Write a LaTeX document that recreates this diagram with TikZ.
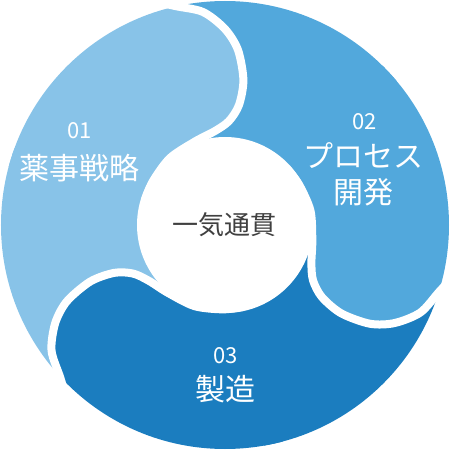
\documentclass[tikz,border=0pt]{standalone}
\usepackage{fontspec}
\setmainfont{Noto Sans CJK JP}
\definecolor{StepLight}{HTML}{88C3E8}
\definecolor{StepMid}{HTML}{52A8DC}
\definecolor{StepDark}{HTML}{1B7DBF}
\definecolor{CoreGray}{HTML}{404040}
\usepackage{tikz}

\tikzset{
  swirl/.style={insert path={-- plot[smooth] coordinates
    {(-80,226) (-50,219) (-22,213) (0,196) (13,175) (18.4,145) (14,120)
     (4,104) (-10,94) (-30,83.5) (-55,67) (-72,44) (-80,25)}}},
  stepno/.style={text=white, inner sep=0pt, font=\fontsize{22}{22}\selectfont},
  steptitle/.style={text=white, inner sep=0pt, font=\fontsize{30}{30}\selectfont},
}

\begin{document}
\begin{tikzpicture}[x=1pt, y=1pt]
  \useasboundingbox (-225,-225) rectangle (225,225);
  \begin{scope}
    \clip (0,0) circle[radius=224pt];
    % 01 segment
    \fill[StepLight] (109.5:240) [swirl] -- (0,0) -- (165:240)
      arc[start angle=165, end angle=109.5, radius=240pt] -- cycle;
    \begin{scope}[rotate=120]
      \fill[StepLight] (40:240) arc[start angle=40, end angle=109.5, radius=240pt]
        [swirl] -- (0,0) -- cycle;
    \end{scope}
    % 02 segment
    \begin{scope}[rotate=-120]
      \fill[StepMid] (109.5:240) [swirl] -- (0,0) -- (165:240)
        arc[start angle=165, end angle=109.5, radius=240pt] -- cycle;
      \begin{scope}[rotate=120]
        \fill[StepMid] (40:240) arc[start angle=40, end angle=109.5, radius=240pt]
          [swirl] -- (0,0) -- cycle;
      \end{scope}
    \end{scope}
    % 03 segment
    \begin{scope}[rotate=-240]
      \fill[StepDark] (109.5:240) [swirl] -- (0,0) -- (165:240)
        arc[start angle=165, end angle=109.5, radius=240pt] -- cycle;
      \begin{scope}[rotate=120]
        \fill[StepDark] (40:240) arc[start angle=40, end angle=109.5, radius=240pt]
          [swirl] -- (0,0) -- cycle;
      \end{scope}
    \end{scope}
  \end{scope}

  % white gaps between the segments
  \draw[white, line width=8pt] (109.5:240) [swirl];
  \draw[white, line width=8pt, rotate=-120] (109.5:240) [swirl];
  \draw[white, line width=8pt, rotate=-240] (109.5:240) [swirl];

  % centre
  \node[circle, fill=white, minimum size=176pt, inner sep=0pt, text=CoreGray,
    font=\fontsize{26}{26}\selectfont] (core) at (0,0) {一気通貫};

  \node[stepno] (no1) at (-145.5,94.5) {01};
  \node[steptitle] (title1) at (-145,57) {薬事戦略};
  \node[stepno] (no2) at (139.5,103) {02};
  \node[steptitle] (title2) at (138.7,69) {プロセス};
  \node[steptitle] (title2b) at (139,33) {開発};
  \node[stepno] (no3) at (0.7,-130.7) {03};
  \node[steptitle] (title3) at (0.7,-164) {製造};
\end{tikzpicture}
\end{document}
